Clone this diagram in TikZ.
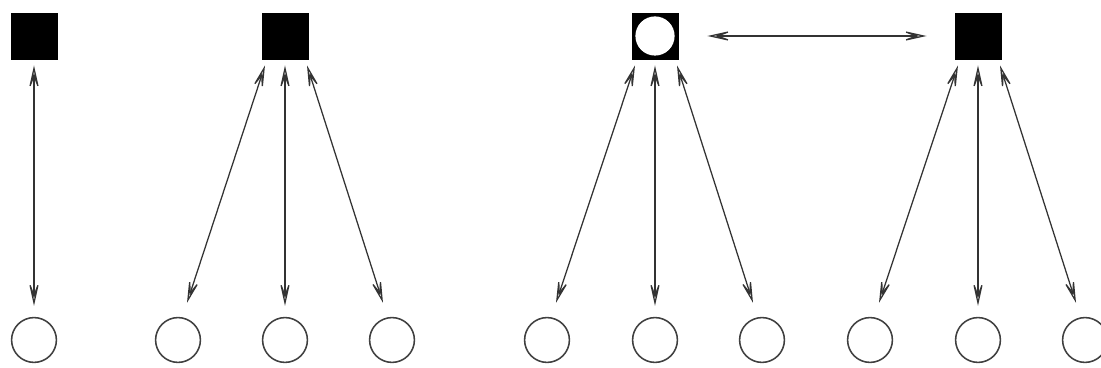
\documentclass[tikz,border=0pt]{standalone}
\usepackage{tikz}
\usetikzlibrary{arrows.meta, calc}

\begin{document}
\begin{tikzpicture}[
                x=0.025cm, y=0.025cm,
                sq/.style={rectangle, draw=black, fill=black, minimum size=1.15cm,
                           inner sep=0pt, line width=0.6pt},
                hole/.style={circle, fill=white, minimum size=0.98cm, inner sep=0pt},
                dot/.style={circle, draw=black!75, line width=1.1pt, fill=white,
                            minimum size=1.12cm, inner sep=0pt},
                tip/.tip={Stealth[length=0.72cm, width=0.32cm, inset=0.42cm, open, line width=0.9pt]},
                arr/.style={tip-tip, black!80, line width=0.9pt}
            ]
                \useasboundingbox (0,0) rectangle (1101,368);

                % top row
                \node[sq] (s1) at (34,332) {};
                \node[sq] (s2) at (285,332) {};
                \node[sq] (s3) at (655,332) {};
                \node[hole] (h3) at (s3) {};
                \node[sq] (s4) at (978,332) {};

                % bottom row
                \foreach \i/\x in {1/34, 2/178, 3/285, 4/392, 5/547, 6/655, 7/762, 8/870, 9/978, 10/1085}
                    \node[dot] (c\i) at (\x,28) {};

                % links
                \draw[arr] ($(s1.south)+(0,-6)$) -- ($(c1.north)+(0,11)$);

                \draw[arr] ($(s2.south)+(-20,-6)$) -- ($(c2.north)+(9,14)$);
                \draw[arr] ($(s2.south)+(0,-6)$) -- ($(c3.north)+(0,11)$);
                \draw[arr] ($(s2.south)+(22,-6)$) -- ($(c4.north)+(-9,14)$);

                \draw[arr] ($(s3.south)+(-20,-6)$) -- ($(c5.north)+(9,14)$);
                \draw[arr] ($(s3.south)+(0,-6)$) -- ($(c6.north)+(0,11)$);
                \draw[arr] ($(s3.south)+(22,-6)$) -- ($(c7.north)+(-9,14)$);

                \draw[arr] ($(s4.south)+(-20,-6)$) -- ($(c8.north)+(9,14)$);
                \draw[arr] ($(s4.south)+(0,-6)$) -- ($(c9.north)+(0,11)$);
                \draw[arr] ($(s4.south)+(22,-6)$) -- ($(c10.north)+(-9,14)$);

                \draw[arr] ($(s3.east)+(29,0)$) -- ($(s4.west)+(-28,0)$);
            \end{tikzpicture}
\end{document}
